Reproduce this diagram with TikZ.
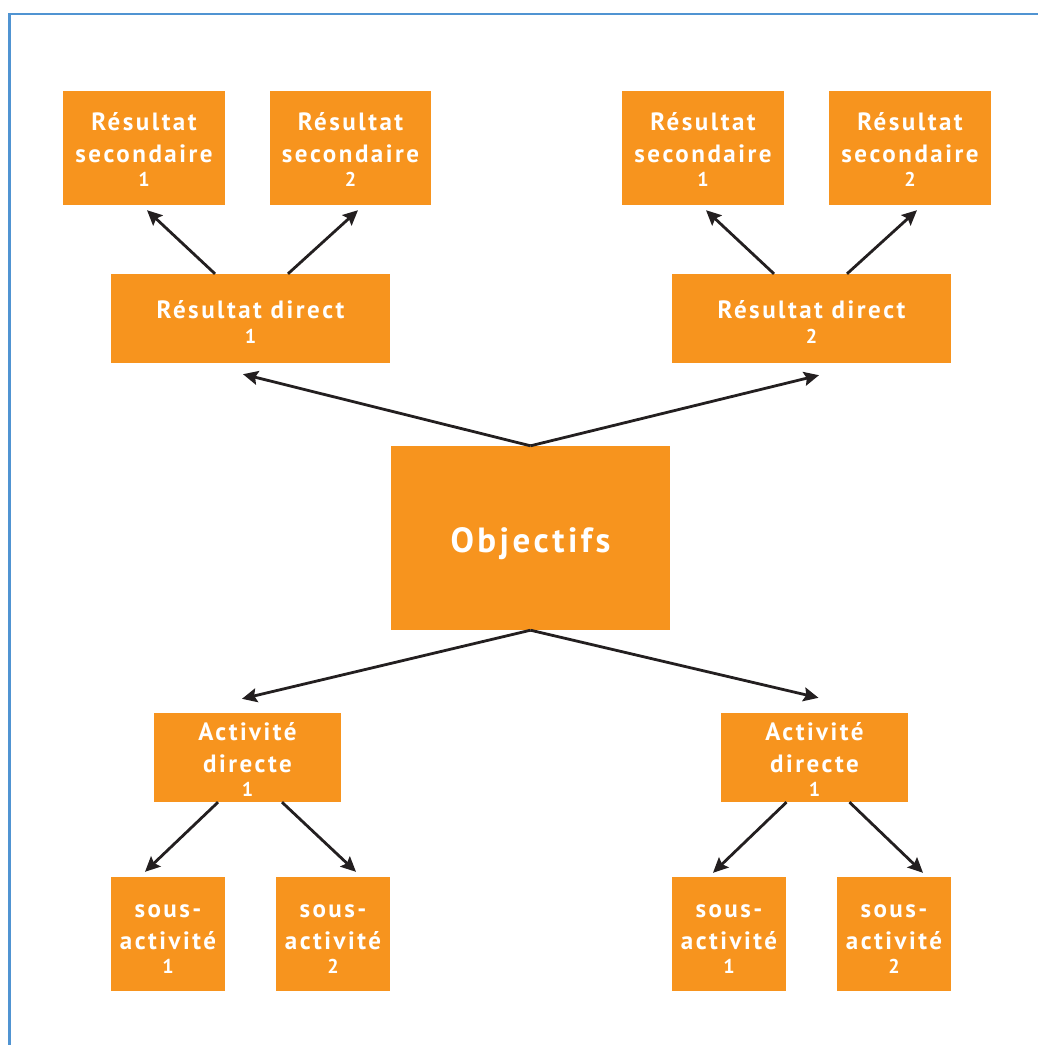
\documentclass[tikz,border=0pt]{standalone}
\usepackage{fontspec}
\usetikzlibrary{arrows.meta,calc}
\newfontfamily\labfont{PT Sans}[LetterSpace=10,BoldFont=* Bold]
\definecolor{boxorange}{RGB}{247,148,30}
\definecolor{framblue}{RGB}{80,148,210}
\definecolor{arrowink}{RGB}{35,31,32}
\newcommand{\numln}[1]{{\fontsize{20}{20}\selectfont #1}}
\newcommand{\tstr}[1]{\rule{0pt}{#1pt}}
\newcommand{\bstr}[1]{\rule[-#1pt]{0pt}{#1pt}}
\tikzset{
  box/.style={fill=boxorange, inner sep=0pt, text=white, align=center,
    font=\labfont\bfseries\fontsize{25}{32.5}\selectfont},
  conn/.style={draw=arrowink, line width=2.8pt,
    -{Stealth[length=15pt,width=14pt,inset=2.5pt]}}
}
\begin{document}
\begin{tikzpicture}[x=1pt,y=-1pt]
\useasboundingbox (0,0) rectangle (1038,1045);
% frame
\draw[framblue, line width=2.7pt] (9.7,1046) -- (9.7,14) -- (1039,14);
% top row
\node[box, minimum width=162pt, minimum height=114pt] (rs1l) at (144,148) {\tstr{25}Résultat\\secondaire\\[-8.5pt]\numln{1}\bstr{4.5}};
\node[box, minimum width=161pt, minimum height=114pt] (rs2l) at (350.5,148) {\tstr{25}Résultat\\secondaire\\[-8.5pt]\numln{2}\bstr{4.5}};
\node[box, minimum width=162pt, minimum height=114pt] (rs1r) at (703,148) {\tstr{25}Résultat\\secondaire\\[-8.5pt]\numln{1}\bstr{4.5}};
\node[box, minimum width=162pt, minimum height=114pt] (rs2r) at (910,148) {\tstr{25}Résultat\\secondaire\\[-8.5pt]\numln{2}\bstr{4.5}};
% direct results
\node[box, minimum width=279pt, minimum height=89pt] (rd1) at (250.5,318.5) {\tstr{25}Résultat direct\\[-7.5pt]\numln{1}\bstr{1}};
\node[box, minimum width=279pt, minimum height=89pt] (rd2) at (811.5,318.5) {\tstr{25}Résultat direct\\[-7.5pt]\numln{2}\bstr{1}};
% objectives
\node[box, minimum width=279pt, minimum height=184pt, font=\labfont\bfseries\fontsize{35}{40}\selectfont] (obj) at (530.5,538) {\rule[-9pt]{0pt}{46pt}Objectifs};
% activities
\node[box, minimum width=187pt, minimum height=89pt] (ad1) at (247.5,757.5) {\tstr{25}Activité\\directe\\[-8.5pt]\numln{1}\bstr{3.5}};
\node[box, minimum width=187pt, minimum height=89pt] (ad2) at (814.5,757.5) {\tstr{25}Activité\\directe\\[-8.5pt]\numln{1}\bstr{3.5}};
% sub-activities
\node[box, minimum width=114pt, minimum height=114pt] (sa1l) at (168,934) {\tstr{25}sous-\\activité\\[-8.5pt]\numln{1}\bstr{2.5}};
\node[box, minimum width=114pt, minimum height=114pt] (sa2l) at (333,934) {\tstr{25}sous-\\activité\\[-8.5pt]\numln{2}\bstr{2.5}};
\node[box, minimum width=114pt, minimum height=114pt] (sa1r) at (729,934) {\tstr{25}sous-\\activité\\[-8.5pt]\numln{1}\bstr{2.5}};
\node[box, minimum width=114pt, minimum height=114pt] (sa2r) at (894,934) {\tstr{25}sous-\\activité\\[-8.5pt]\numln{2}\bstr{2.5}};
% connectors
\draw[conn] ($(rd1.north)+(-35.5,0)$) -- ($(rs1l.south)+(3,5)$);
\draw[conn] ($(rd1.north)+(37.5,0)$) -- ($(rs2l.south)+(7.5,5)$);
\draw[conn] ($(rd2.north)+(-37.5,0)$) -- ($(rs1r.south)+(3,5)$);
\draw[conn] ($(rd2.north)+(35.5,0)$) -- ($(rs2r.south)+(7,5)$);
\draw[conn] (obj.north) -- ($(rd1.south)+(-7.5,11)$);
\draw[conn] (obj.north) -- ($(rd2.south)+(7.5,12)$);
\draw[conn] (obj.south) -- ($(ad1.north)+(-5.5,-14)$);
\draw[conn] (obj.south) -- ($(ad2.north)+(4,-15)$);
\draw[conn] ($(ad1.south)+(-29.5,0)$) -- ($(sa1l.north)+(-23,-5)$);
\draw[conn] ($(ad1.south)+(34.5,0)$) -- ($(sa2l.north)+(23,-5)$);
\draw[conn] ($(ad2.south)+(-28,0)$) -- ($(sa1r.north)+(-16,-4)$);
\draw[conn] ($(ad2.south)+(35,0)$) -- ($(sa2r.north)+(29,-4)$);
\end{tikzpicture}
\end{document}
